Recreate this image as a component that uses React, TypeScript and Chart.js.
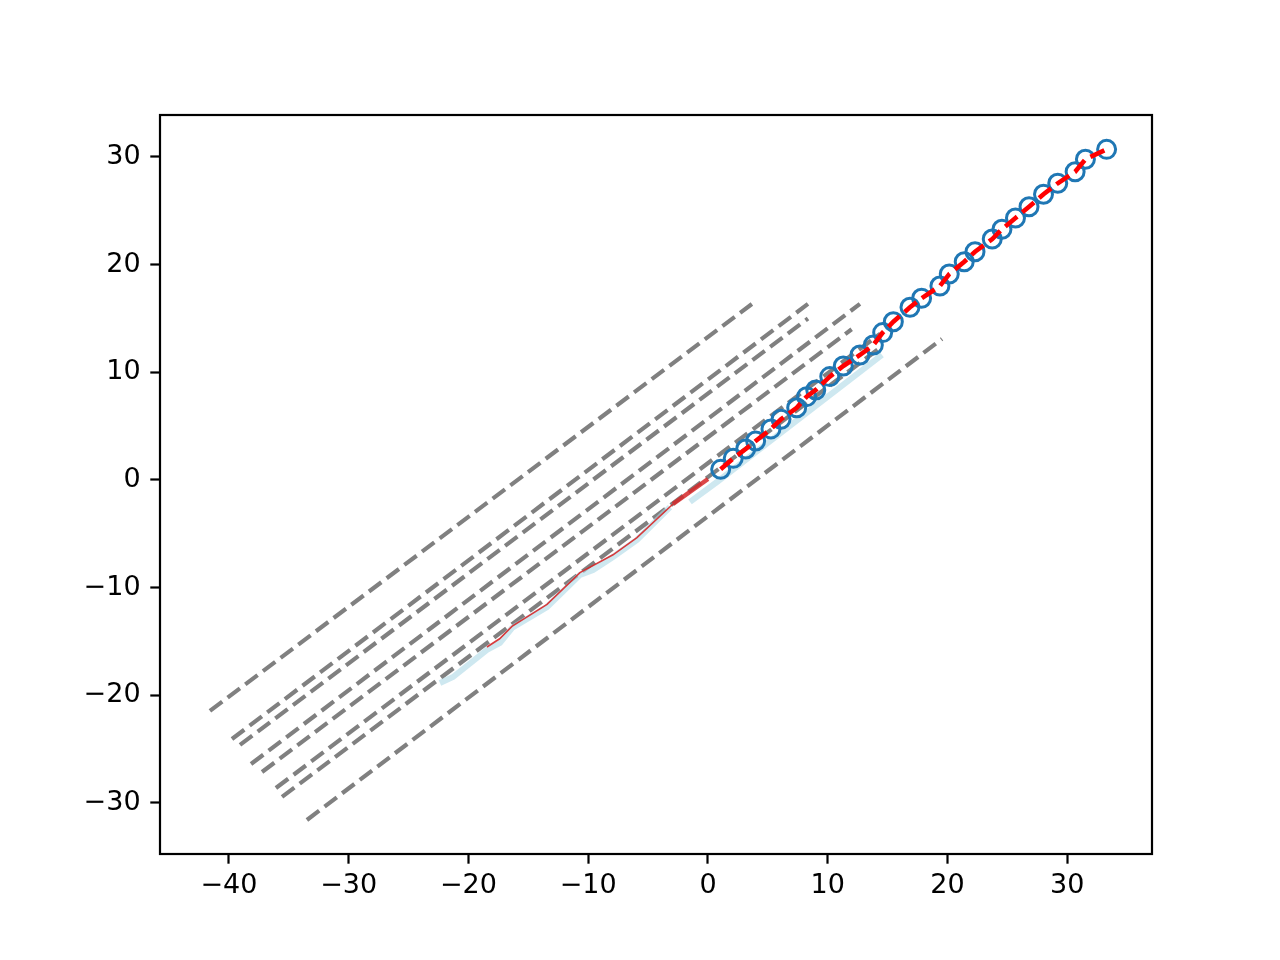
import React, { useEffect, useRef } from "react";
import { Chart, registerables } from "chart.js";

Chart.register(...registerables);

// x/y tick values
const xTicks = [-40, -30, -20, -10, 0, 10, 20, 30];
const yTicks = [-30, -20, -10, 0, 10, 20, 30];

// hollow circle markers (also the red dashed line)
const circleX = [1.06, 2.11, 3.15, 3.98, 5.26, 6.1, 7.41, 8.24, 9.0, 10.17, 11.3, 12.69, 13.81, 14.59, 15.48, 16.87, 17.84, 19.37, 20.15, 21.4, 22.3, 23.74, 24.55, 25.68, 26.81, 28.02, 29.21, 30.66, 31.52, 33.29];
const circleY = [0.99, 2.01, 2.88, 3.62, 4.74, 5.64, 6.71, 7.74, 8.36, 9.6, 10.59, 11.61, 12.54, 13.69, 14.7, 16.04, 16.88, 18.02, 19.13, 20.27, 21.2, 22.38, 23.29, 24.33, 25.38, 26.54, 27.56, 28.63, 29.79, 30.71];

// light blue line, first (jagged) segment
const blueX1 = [-22.38, -21.29, -18.46, -17.37, -16.37, -13.44, -10.69, -9.6, -7.93, -7.35, -5.93, -3.17];
const blueY1 = [-18.85, -18.3, -15.79, -15.14, -13.75, -11.8, -8.82, -8.36, -7.15, -6.69, -5.57, -2.51];
// light blue line, second segment
const blueX2 = [-1.5, 0.75, 14.53];
const blueY2 = [-2.04, -0.19, 11.61];

// thin red line on the negative side
const redThinX = [-18.46, -17.4, -16.37, -13.44, -10.69, -7.93, -5.93, -2.92];
const redThinY = [-15.51, -14.75, -13.6, -11.55, -8.6, -6.95, -5.35, -2.23];
// thicker red piece near the origin
const redThickX = [-2.92, 0];
const redThickY = [-2.23, 0.09];

// gray dashed lines: start and end points
const grayStartX = [-41.59, -39.75, -39.08, -38.16, -37.24, -36.08, -35.57, -33.49];
const grayStartY = [-21.45, -24.06, -24.61, -26.38, -27.12, -28.61, -29.44, -31.58];
const grayEndX = [3.67, 8.35, 8.35, 12.69, 12.0, 14.4, 14.4, 19.54];
const grayEndY = [16.35, 16.35, 15.0, 16.35, 14.0, 13.6, 12.3, 13.1];

const pts = (xs: number[], ys: number[]) => xs.map((x, i) => ({ x, y: ys[i] }));
const fmt = (v: number) => (v < 0 ? "\u2212" + Math.abs(v) : String(v));

const framePlugin = {
  id: "frame",
  afterDraw(chart: any) {
    const { ctx, chartArea: a } = chart;
    ctx.save();
    ctx.strokeStyle = "#000";
    ctx.lineWidth = 2.2;
    ctx.strokeRect(a.left, a.top, a.right - a.left, a.bottom - a.top);
    ctx.restore();
  },
};

export default function App() {
  const ref = useRef<HTMLCanvasElement | null>(null);
  useEffect(() => {
    if (!ref.current) return;
    const grayDatasets = grayStartX.map((sx, i) => ({
      data: [
        { x: sx, y: grayStartY[i] },
        { x: grayEndX[i], y: grayEndY[i] },
      ],
      borderColor: "#808080",
      borderWidth: 4.2,
      borderDash: [15.4, 6.7],
      pointRadius: 0,
      showLine: true,
      fill: false,
    }));
    const font = { family: "'DejaVu Sans'", size: 27 };
    const chart = new Chart(ref.current, {
      type: "line",
      data: {
        datasets: [
          {
            data: pts(circleX, circleY),
            borderColor: "#ff0000",
            borderWidth: 4.6,
            borderDash: [15.4, 6.7],
            pointRadius: 0,
            tension: 0,
          },
          {
            data: pts(circleX, circleY),
            showLine: false,
            pointRadius: 9,
            pointBorderWidth: 3,
            pointBorderColor: "#1f77b4",
            pointBackgroundColor: "rgba(0,0,0,0)",
            borderColor: "#1f77b4",
          },
          {
            data: pts(redThickX, redThickY),
            borderColor: "rgba(214,39,40,0.85)",
            borderWidth: 4.5,
            pointRadius: 0,
          },
          {
            data: pts(redThinX, redThinY),
            borderColor: "rgba(214,39,40,0.9)",
            borderWidth: 1.6,
            pointRadius: 0,
          },
          {
            data: pts(blueX1, blueY1),
            borderColor: "rgba(173,216,230,0.6)",
            borderWidth: 6,
            pointRadius: 0,
          },
          {
            data: pts(blueX2, blueY2),
            borderColor: "rgba(173,216,230,0.6)",
            borderWidth: 6,
            pointRadius: 0,
          },
          ...grayDatasets,
        ] as any,
      },
      options: {
        animation: false,
        responsive: false,
        maintainAspectRatio: false,
        layout: { padding: { left: 0, top: 115, right: 128, bottom: 0 } },
        plugins: { legend: { display: false }, tooltip: { enabled: false } },
        scales: {
          x: {
            type: "linear",
            min: -45.76,
            max: 37.08,
            afterBuildTicks: (s: any) => {
              s.ticks = xTicks.map((v) => ({ value: v }));
            },
            afterFit: (s: any) => {
              s.height = 106;
            },
            grid: {
              display: true,
              drawOnChartArea: false,
              drawTicks: true,
              tickLength: 9.7,
              tickWidth: 2.2,
              tickColor: "#000",
              color: "#000",
            },
            border: { display: false },
            ticks: {
              color: "#000",
              font,
              padding: 6,
              maxRotation: 0,
              autoSkip: false,
              callback: (v: any) => fmt(Number(v)),
            },
          },
          y: {
            type: "linear",
            min: -34.74,
            max: 33.9,
            afterBuildTicks: (s: any) => {
              s.ticks = yTicks.map((v) => ({ value: v }));
            },
            afterFit: (s: any) => {
              s.width = 160;
            },
            grid: {
              display: true,
              drawOnChartArea: false,
              drawTicks: true,
              tickLength: 9.7,
              tickWidth: 2.2,
              tickColor: "#000",
              color: "#000",
            },
            border: { display: false },
            ticks: {
              color: "#000",
              font,
              padding: 9.7,
              autoSkip: false,
              callback: (v: any) => fmt(Number(v)),
            },
          },
        },
      },
      plugins: [framePlugin],
    });
    return () => chart.destroy();
  }, []);
  return (
    <div style={{ position: "absolute", left: 0, top: 0, width: 1280, height: 960, background: "#fff" }}>
      <canvas ref={ref} width={1280} height={960} style={{ width: 1280, height: 960 }} />
    </div>
  );
}
